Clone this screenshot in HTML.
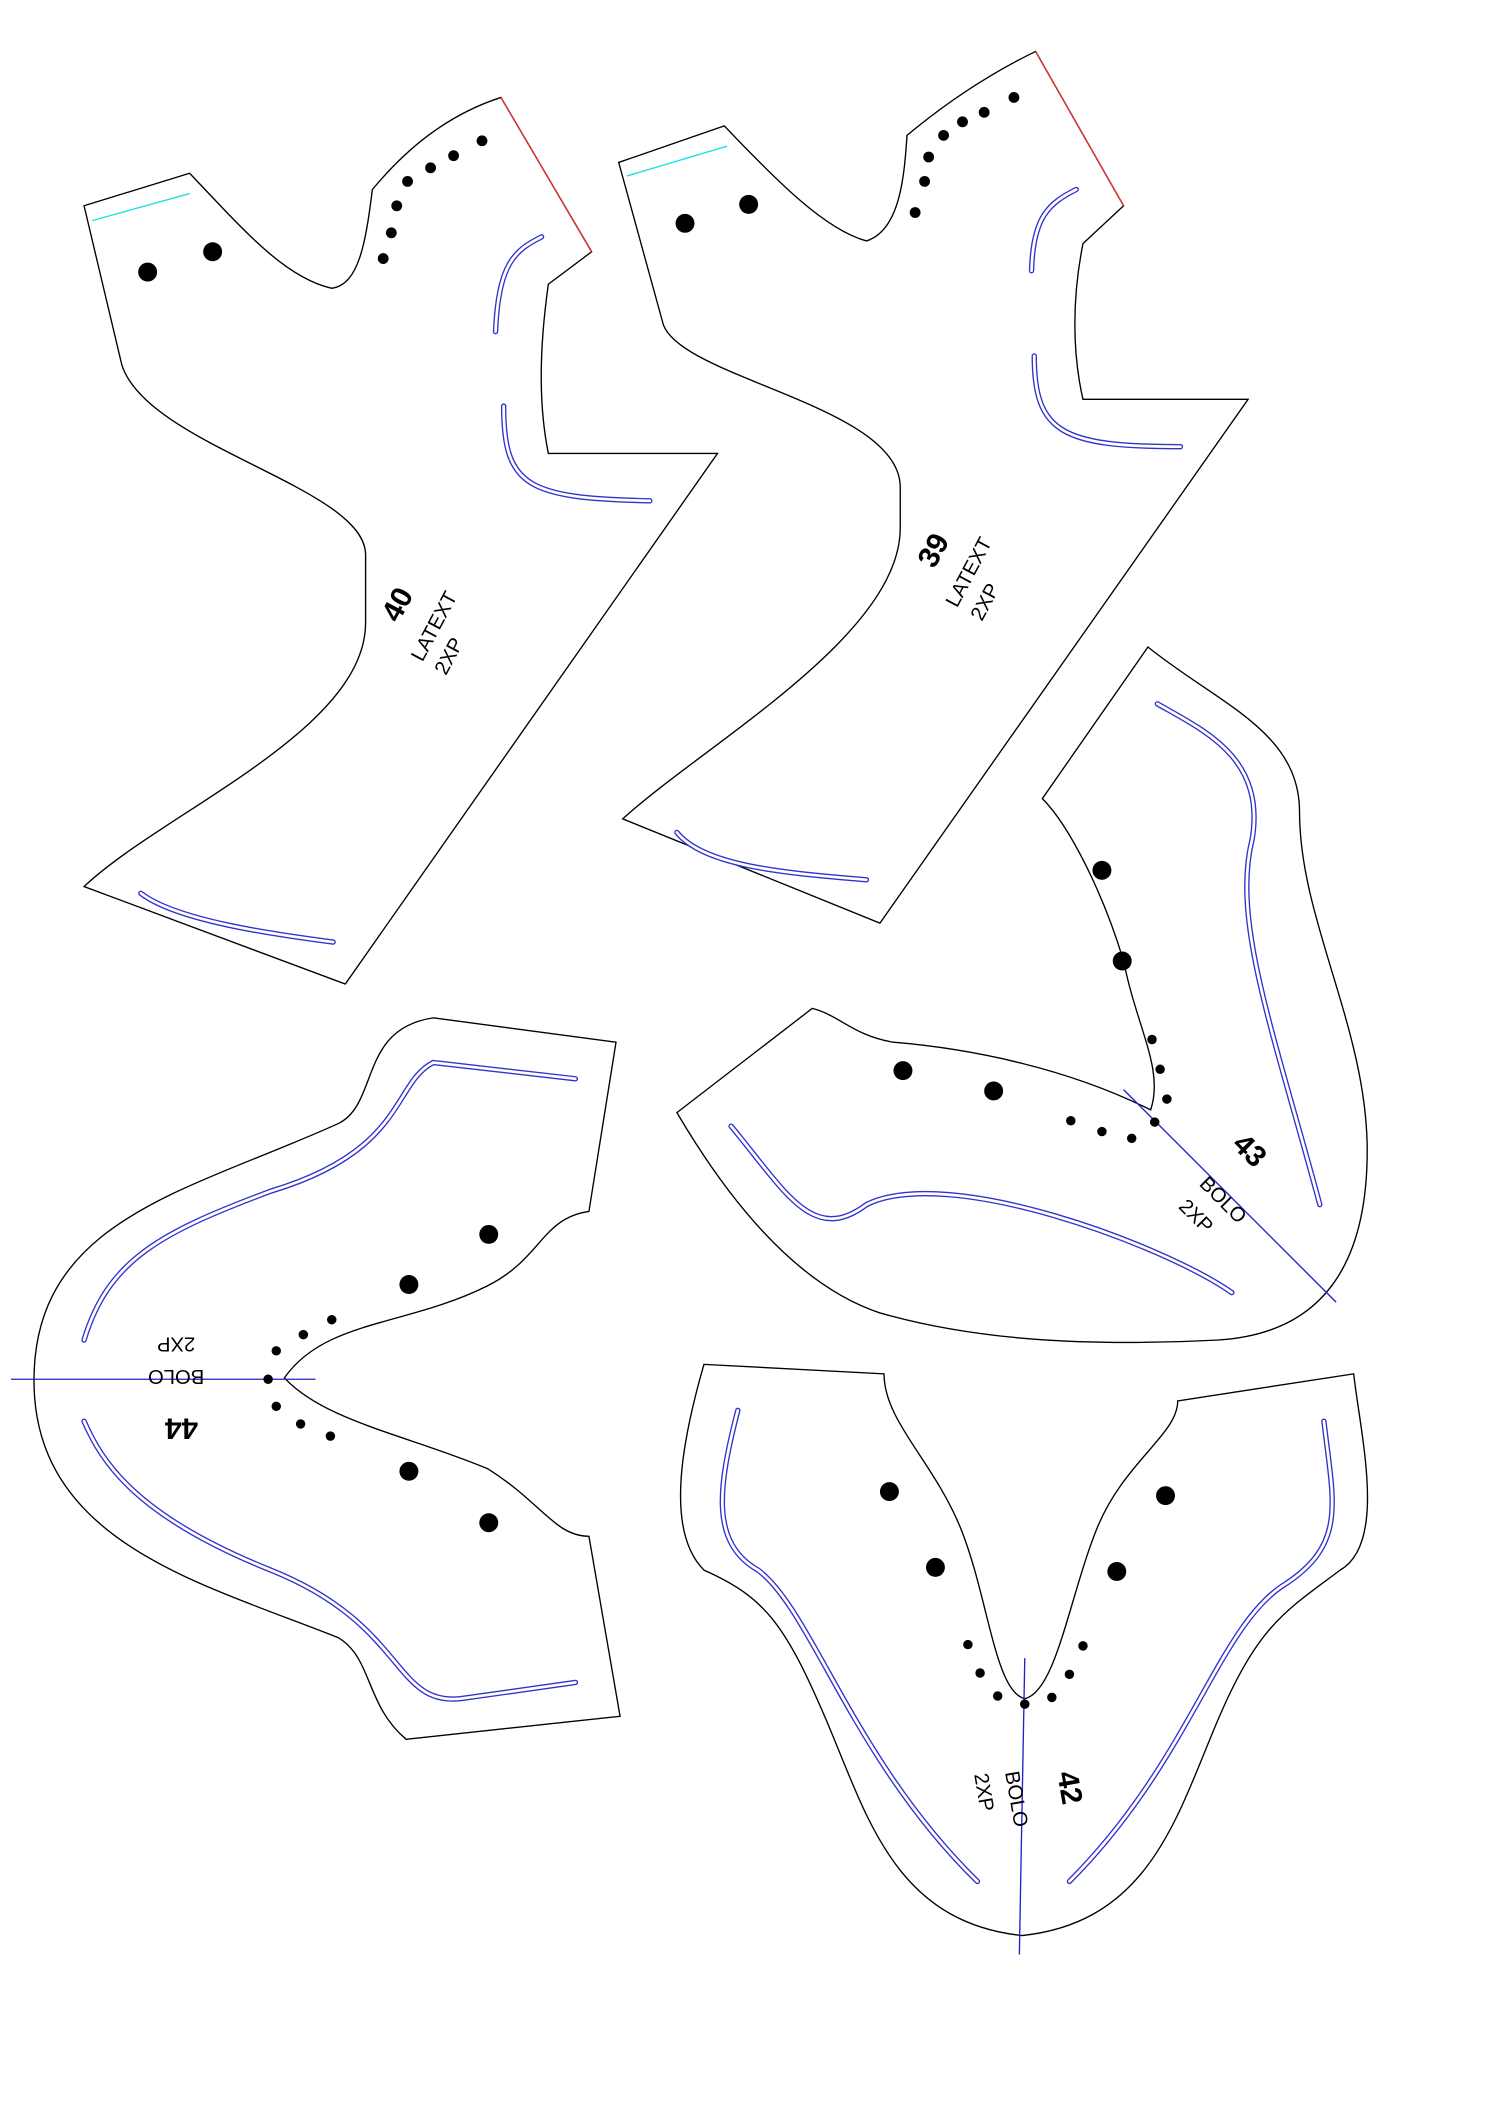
<!DOCTYPE html>
<html><head><meta charset="utf-8"><style>
html,body{margin:0;padding:0;background:#fff;}
svg{display:block;}
text{font-family:"Liberation Sans",sans-serif;fill:#000;}
</style></head><body>
<svg width="1500" height="2121" viewBox="0 0 1108 1567" xmlns="http://www.w3.org/2000/svg">
<rect width="1108" height="1567" fill="#fff"/>
<g fill="none" stroke="#000" stroke-width="1">
<!-- 40 -->
<path d="M62,152 L140,128 C180,170 210,205 245,213 C265,210 270,180 275,140 C300,110 330,85 370,72 L437,186 L405,210 C398,260 398,300 405,335 L530,335 L255,727 L62,655 C120,600 270,540 270,460 L270,410 C270,360 110,330 90,270 Z"/>
<!-- 39 -->
<path d="M457,120 L535,93 C575,135 610,170 640,178 C665,170 668,130 670,100 C700,75 730,55 765,38 L830,152 L800,180 C792,220 792,260 800,295 L922,295 L650,682 L460,605 C520,550 665,470 665,390 L665,360 C665,300 505,280 490,240 Z"/>
<!-- 43 -->
<path d="M848,478 C900,520 960,540 960,600 C960,680 1010,760 1010,850 C1010,930 980,985 900,990 C800,995 720,990 650,970 C590,950 540,890 500,822 L600,745 C620,750 630,765 660,770 C720,775 790,790 850,820 C860,790 840,760 830,710 C815,660 790,610 770,590 Z"/>
<!-- 44 -->
<path d="M455,770 L435,895 C400,900 400,930 360,950 C300,980 240,975 210,1018 C240,1050 300,1060 360,1085 C400,1110 410,1135 435,1135 L458,1268 L300,1285 C270,1260 275,1225 250,1210 C150,1170 25,1140 25,1020 C25,900 140,880 250,830 C280,815 265,760 320,752 Z"/>
<!-- 42 -->
<path d="M520,1008 L653,1015 C653,1050 690,1080 710,1130 C730,1180 735,1250 757,1255 C780,1250 790,1180 810,1130 C830,1080 870,1060 870,1035 L1000,1015 C1005,1060 1025,1140 990,1160 C950,1190 930,1200 900,1270 C870,1340 850,1420 755,1430 C660,1420 640,1340 610,1270 C580,1200 565,1180 520,1160 C490,1130 505,1060 520,1008 Z"/>
</g>
<!-- red / cyan -->
<line x1="370" y1="72" x2="437" y2="186" stroke="#e03030" stroke-width="1"/>
<line x1="765" y1="38" x2="830" y2="152" stroke="#e03030" stroke-width="1"/>
<path d="M68,163 L140,143" stroke="#2dd" fill="none"/>
<path d="M463,130 L537,108" stroke="#2dd" fill="none"/>
<!-- blue double stitch lines -->
<g fill="none" stroke="#33c" stroke-width="4" stroke-linecap="round">
<path d="M400,175 C380,185 368,195 366,245"/><path d="M372,300 C372,360 390,368 480,370"/>
<path d="M104,660 C130,680 200,690 246,696"/>
<path d="M795,140 C775,150 763,160 762,200"/><path d="M764,263 C764,320 785,330 872,330"/>
<path d="M500,615 C520,640 580,645 640,650"/>
<path d="M855,520 C890,540 935,560 925,620 C910,680 940,760 975,890"/>
<path d="M540,832 C580,880 600,920 640,890 C700,860 860,920 910,955"/>
<path d="M425,797 L320,785 C290,800 300,850 200,880 C120,910 80,930 62,990"/>
<path d="M62,1050 C75,1080 100,1120 200,1160 C300,1200 290,1260 340,1255 L425,1243"/>
<path d="M545,1042 C530,1100 525,1140 560,1160 C600,1190 630,1300 722,1390"/>
<path d="M978,1050 C985,1110 995,1140 950,1170 C900,1200 880,1300 790,1390"/>
</g>
<g fill="none" stroke="#fff" stroke-width="2" stroke-linecap="round">
<path d="M400,175 C380,185 368,195 366,245"/><path d="M372,300 C372,360 390,368 480,370"/>
<path d="M104,660 C130,680 200,690 246,696"/>
<path d="M795,140 C775,150 763,160 762,200"/><path d="M764,263 C764,320 785,330 872,330"/>
<path d="M500,615 C520,640 580,645 640,650"/>
<path d="M855,520 C890,540 935,560 925,620 C910,680 940,760 975,890"/>
<path d="M540,832 C580,880 600,920 640,890 C700,860 860,920 910,955"/>
<path d="M425,797 L320,785 C290,800 300,850 200,880 C120,910 80,930 62,990"/>
<path d="M62,1050 C75,1080 100,1120 200,1160 C300,1200 290,1260 340,1255 L425,1243"/>
<path d="M545,1042 C530,1100 525,1140 560,1160 C600,1190 630,1300 722,1390"/>
<path d="M978,1050 C985,1110 995,1140 950,1170 C900,1200 880,1300 790,1390"/>
</g>
<!-- axis lines -->
<g stroke="#22c" stroke-width="1">
<line x1="830" y1="805" x2="987" y2="962"/>
<line x1="8" y1="1019" x2="233" y2="1019"/>
<line x1="757" y1="1225" x2="753" y2="1444"/>
</g>
<!-- dots -->
<g fill="#000">
<circle cx="109" cy="201" r="7"/><circle cx="157" cy="186" r="7"/>
<circle cx="283" cy="191" r="4"/><circle cx="289" cy="172" r="4"/><circle cx="293" cy="152" r="4"/><circle cx="301" cy="134" r="4"/><circle cx="318" cy="124" r="4"/><circle cx="335" cy="115" r="4"/><circle cx="356" cy="104" r="4"/>
<circle cx="506" cy="165" r="7"/><circle cx="553" cy="151" r="7"/>
<circle cx="676" cy="157" r="4"/><circle cx="683" cy="134" r="4"/><circle cx="686" cy="116" r="4"/><circle cx="697" cy="100" r="4"/><circle cx="711" cy="90" r="4"/><circle cx="727" cy="83" r="4"/><circle cx="749" cy="72" r="4"/>
<circle cx="814" cy="643" r="7"/><circle cx="829" cy="710" r="7"/>
<circle cx="851" cy="768" r="3.5"/><circle cx="857" cy="790" r="3.5"/><circle cx="862" cy="812" r="3.5"/><circle cx="853" cy="829" r="3.5"/><circle cx="836" cy="841" r="3.5"/><circle cx="814" cy="836" r="3.5"/><circle cx="791" cy="828" r="3.5"/>
<circle cx="667" cy="791" r="7"/><circle cx="734" cy="806" r="7"/>
<circle cx="361" cy="912" r="7"/><circle cx="302" cy="949" r="7"/>
<circle cx="245" cy="975" r="3.5"/><circle cx="224" cy="986" r="3.5"/><circle cx="204" cy="998" r="3.5"/><circle cx="198" cy="1019" r="3.5"/><circle cx="204" cy="1039" r="3.5"/><circle cx="222" cy="1052" r="3.5"/><circle cx="244" cy="1061" r="3.5"/>
<circle cx="302" cy="1087" r="7"/><circle cx="361" cy="1125" r="7"/>
<circle cx="657" cy="1102" r="7"/><circle cx="691" cy="1158" r="7"/>
<circle cx="715" cy="1215" r="3.5"/><circle cx="724" cy="1236" r="3.5"/><circle cx="737" cy="1253" r="3.5"/><circle cx="757" cy="1259" r="3.5"/><circle cx="777" cy="1254" r="3.5"/><circle cx="790" cy="1237" r="3.5"/><circle cx="800" cy="1216" r="3.5"/>
<circle cx="861" cy="1105" r="7"/><circle cx="825" cy="1161" r="7"/>
</g>
<!-- labels -->
<g transform="translate(300,450) rotate(-62)"><text x="0" y="0" font-size="22" font-weight="bold" text-anchor="middle">40</text></g>
<g transform="translate(325,465) rotate(-62)"><text font-size="15" text-anchor="middle">LATEXT</text></g>
<g transform="translate(336,487) rotate(-62)"><text font-size="15" text-anchor="middle">2XP</text></g>
<g transform="translate(696,410) rotate(-62)"><text font-size="22" font-weight="bold" text-anchor="middle">39</text></g>
<g transform="translate(720,425) rotate(-62)"><text font-size="15" text-anchor="middle">LATEXT</text></g>
<g transform="translate(732,447) rotate(-62)"><text font-size="15" text-anchor="middle">2XP</text></g>
<g transform="translate(918,855) rotate(45)"><text font-size="22" font-weight="bold" text-anchor="middle">43</text></g>
<g transform="translate(900,890) rotate(45)"><text font-size="15" text-anchor="middle">BOLO</text></g>
<g transform="translate(880,902) rotate(45)"><text font-size="15" text-anchor="middle">2XP</text></g>
<g transform="translate(130,988) rotate(180)"><text font-size="15" text-anchor="middle">2XP</text></g>
<g transform="translate(130,1012) rotate(180)"><text font-size="15" text-anchor="middle">BOLO</text></g>
<g transform="translate(134,1048) rotate(180)"><text font-size="22" font-weight="bold" text-anchor="middle">44</text></g>
<g transform="translate(783,1322) rotate(80)"><text font-size="22" font-weight="bold" text-anchor="middle">42</text></g>
<g transform="translate(746,1330) rotate(80)"><text font-size="15" text-anchor="middle">BOLO</text></g>
<g transform="translate(722,1325) rotate(80)"><text font-size="15" text-anchor="middle">2XP</text></g>
</svg>
</body></html>
